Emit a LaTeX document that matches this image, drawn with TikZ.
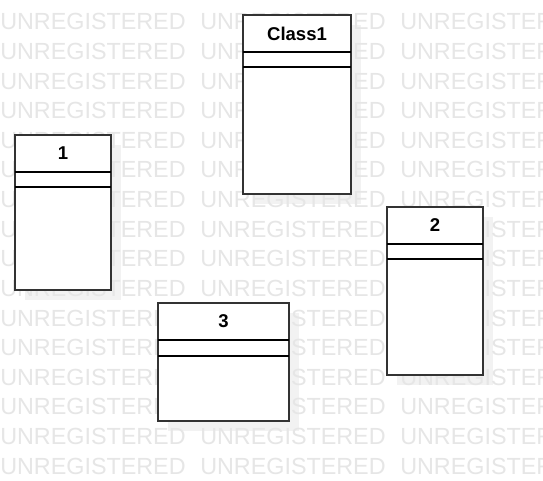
\documentclass[tikz,border=0pt]{standalone}
\usepackage{fontspec}
\setmainfont{Liberation Sans}
\usepackage{tikz}
\usepackage{xcolor}
\definecolor{wmgray}{HTML}{E6E6E6}
\definecolor{shadowgray}{HTML}{F2F2F2}
\definecolor{boxborder}{HTML}{333333}
\tikzstyle{watermark} = [text=wmgray, font=\fontsize{17.5}{17.5}\selectfont,
    anchor=base west, inner sep=0]
\tikzstyle{classshadow} = [fill=shadowgray, draw=none]
\tikzstyle{classbox} = [draw=boxborder, fill=white, line width=1.5pt]
\tikzstyle{compartment} = [draw=black, line width=1.1pt]
\tikzstyle{classtitle} = [font=\bfseries\fontsize{13.9}{13.9}\selectfont, inner sep=0]

\begin{document}
\begin{tikzpicture}[x=0.75pt,y=-0.75pt]
\useasboundingbox (0,0) rectangle (543,481);
\fill[white] (0,0) rectangle (543,481);
% shadows
\fill[classshadow] (253,25) rectangle (361,204);
\fill[classshadow] (25,145) rectangle (121,300);
\fill[classshadow] (397,217) rectangle (493,385);
\fill[classshadow] (168,313) rectangle (299,431);
% watermark
\begin{scope}
\clip (0,0) rectangle (543,481);
\foreach \row in {0,...,15}
  \foreach \col in {0,1,2}
    \node[watermark] (wm-\row-\col) at (200*\col, 30+29.6*\row) {UNREGISTERED};
\end{scope}
% Class1
\draw[classbox] (243,15) rectangle (351,194);
\draw[compartment] (243,52) -- (351,52);
\draw[compartment] (243,67) -- (351,67);
\node[classtitle] (class1) at (297,33.5) {Class1};
% 1
\draw[classbox] (15,135) rectangle (111,290);
\draw[compartment] (15,172) -- (111,172);
\draw[compartment] (15,187) -- (111,187);
\node[classtitle] (one) at (63,153.5) {1};
% 2
\draw[classbox] (387,207) rectangle (483,375);
\draw[compartment] (387,244) -- (483,244);
\draw[compartment] (387,259) -- (483,259);
\node[classtitle] (two) at (435,225.5) {2};
% 3
\draw[classbox] (158,303) rectangle (289,421);
\draw[compartment] (158,340) -- (289,340);
\draw[compartment] (158,356) -- (289,356);
\node[classtitle] (three) at (223.5,321.5) {3};
\end{tikzpicture}
\end{document}
